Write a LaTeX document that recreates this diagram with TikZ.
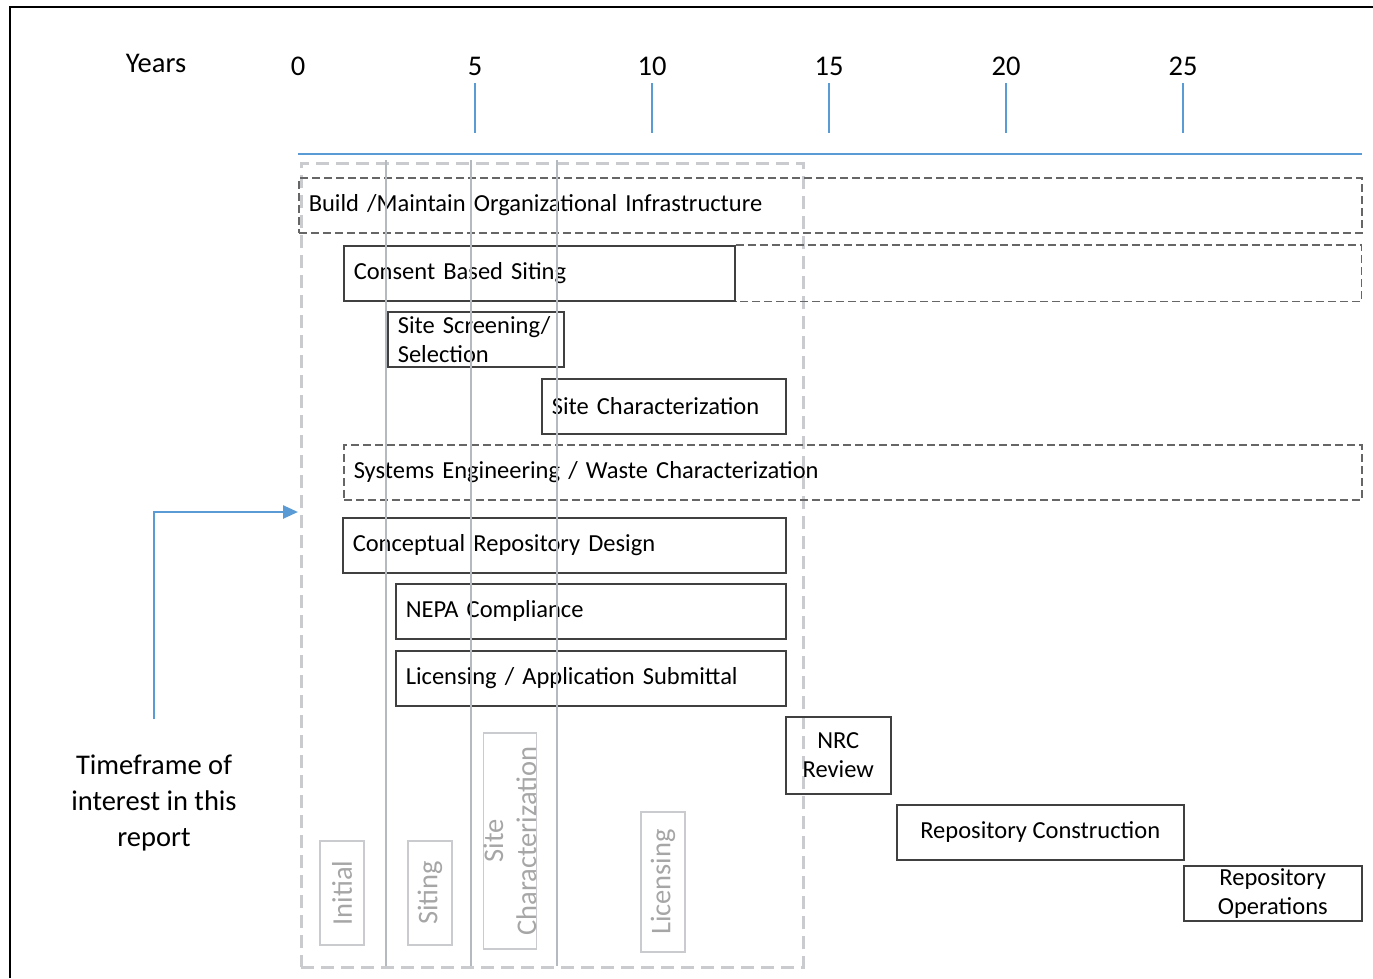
\documentclass[tikz,border=0pt]{standalone}
\usepackage{fontspec}
\setmainfont{Carlito}
\usetikzlibrary{positioning,arrows.meta,shapes}
\definecolor{axisblue}{HTML}{5B9BD5}
\definecolor{phasegray}{HTML}{A6A6A6}
\definecolor{framegray}{HTML}{C9CBCE}
\definecolor{linegray}{HTML}{B4BAC0}
\newcommand\taskfont{\fontsize{24.5}{29}\selectfont}
\newcommand\yearfont{\fontsize{28.5}{36}\selectfont}
\tikzset{
>={Triangle[length=15pt,width=13pt]},
  taskbox/.style={
    rectangle,
    draw=black!75, line width=1.5pt,
    anchor=north west,
    minimum height=55pt,
    inner xsep=10pt, inner ysep=0pt,
    font=\taskfont},
  leftbox/.style={taskbox, text width=#1, align=left},
  centerbox/.style={taskbox, minimum width=#1, align=center},
  dashbox/.style={taskbox, draw=black!60, dash pattern=on 8pt off 4pt},
  phasebox/.style={
    rectangle, rotate=90,
    draw=framegray, line width=1.5pt,
    text=phasegray, align=center,
    inner sep=0pt,
    font=\yearfont},
  timeframe/.style={
    draw=framegray, line width=2.5pt,
    dash pattern=on 13pt off 7pt,
    anchor=north west, inner sep=0pt},
  phaseline/.style={draw=linegray, line width=2pt},
  axis/.style={draw=axisblue, line width=2.5pt},
  pointer/.style={draw=axisblue, line width=2.5pt, ->},
  yearlabel/.style={font=\yearfont},
}

\begin{document}
\begin{tikzpicture}
  [x=1pt, y=-1pt]
  \useasboundingbox (0,0) rectangle (1373,978);
  % outer frame, cut off at the right and bottom
  \draw[line width=2.5pt] (10,978) -- (10,7) -- (1373,7);
  % time axis
  \node[yearlabel] (Years) at (156,63) {Years};
  \foreach \yr in {0,5,...,25}
    \node[yearlabel] (Y\yr) at ({298+35.4*\yr},66) {\yr};
  \foreach \yr in {5,10,...,25}
    \draw[axis] ({298+35.4*\yr},83) -- ++(0,50);
  \draw[axis] (298,154) -- (1362,154);
  % timeframe of interest
  \node[timeframe, minimum width=502pt, minimum height=804pt]
    (Timeframe) at (300,162) {};
  % activities
  \node[dashbox, text width=1043pt, align=left] (Infrastructure) at (298,177)
    {Build /Maintain Organizational Infrastructure};
  \node[leftbox=371pt] (ConsentSiting) at (343,245) {Consent Based Siting};
  \draw[dashbox] (ConsentSiting.north east) -- ++(626,0) |- (ConsentSiting.south east);
  \node[leftbox=156pt] (SiteScreening) at (387,311) {Site Screening/\\Selection};
  \node[leftbox=224pt] (SiteChar) at (541,378) {Site Characterization};
  \node[dashbox, text width=998pt, align=left] (SystemsEng) at (343,444)
    {Systems Engineering / Waste Characterization};
  \node[leftbox=423pt] (ConceptDesign) at (342,517) {Conceptual Repository Design};
  \node[leftbox=370pt] (NEPA) at (395,583) {NEPA Compliance};
  \node[leftbox=370pt] (Licensing) at (395,650) {Licensing / Application Submittal};
  \node[centerbox=105pt, minimum height=77pt] (NRCReview) at (785,716) {NRC\\Review};
  \node[centerbox=287pt] (Construction) at (896,804) {Repository Construction};
  \node[centerbox=178pt] (Operations) at (1183,865) {Repository\\Operations};
  % phase separators
  \foreach \x in {386,471,557}
    \draw[phaseline] (\x,160) -- (\x,966);
  % phase names
  \node[phasebox, minimum width=104pt, minimum height=44pt] (PhInitial) at (342,893) {Initial};
  \node[phasebox, minimum width=104pt, minimum height=44pt] (PhSiting) at (430,893) {Siting};
  \node[phasebox, minimum width=216pt, minimum height=53pt,
    font=\fontsize{28.5}{33}\selectfont] (PhSiteChar) at (510,841)
    {Site\\Characterization};
  \node[phasebox, minimum width=140pt, minimum height=44pt] (PhLicensing) at (663,882) {Licensing};
  % label and arrow
  \node[yearlabel, align=center] (TimeframeLabel) at (154,803)
    {Timeframe of\\interest in this\\report};
  \coordinate (ArrowTip) at (298,512);
  \draw[pointer] ([yshift=32pt]TimeframeLabel.north) |- (ArrowTip);
\end{tikzpicture}
\end{document}
